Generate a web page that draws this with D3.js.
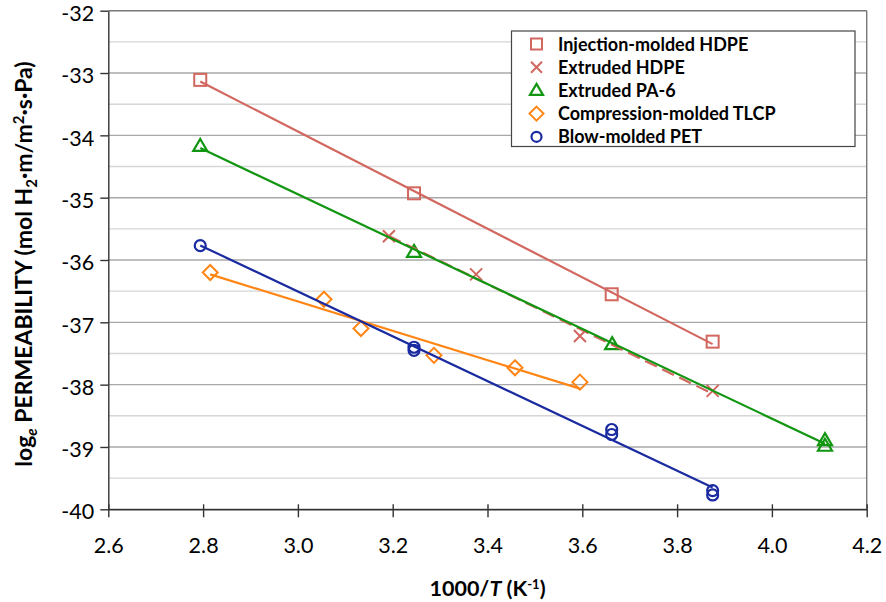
<!DOCTYPE html>
<html><head><meta charset="utf-8">
<script src="https://cdn.jsdelivr.net/npm/d3@7"></script>
<style>
html,body{margin:0;padding:0;background:#fff;}
text{font-family:Lato,"Open Sans",sans-serif;}
</style></head>
<body><svg id="chart" width="886" height="602"></svg>
<script>
// ---- data ----
const seriesNames = ["Injection-molded HDPE","Extruded HDPE","Extruded PA-6","Compression-molded TLCP","Blow-molded PET"];
const injHdpeX = [2.794, 3.245, 3.662, 3.875];
const injHdpeY = [-33.11, -34.93, -36.55, -37.31];
const extHdpeX = [3.192, 3.376, 3.595, 3.875];
const extHdpeY = [-35.62, -36.23, -37.22, -38.10];
const pa6X = [2.794, 3.245, 3.663, 4.112, 4.112];
const pa6Y = [-34.17, -35.87, -37.35, -38.89, -38.98];
const tlcpX = [2.815, 3.055, 3.133, 3.287, 3.458, 3.595];
const tlcpY = [-36.20, -36.63, -37.10, -37.53, -37.73, -37.96];
const petX = [2.794, 3.245, 3.245, 3.662, 3.662, 3.875, 3.875];
const petY = [-35.77, -37.40, -37.45, -38.72, -38.80, -39.70, -39.77];
const xTicks = [2.6, 2.8, 3.0, 3.2, 3.4, 3.6, 3.8, 4.0, 4.2];
const yTicks = [-40, -39, -38, -37, -36, -35, -34, -33, -32];

// ---- styling ----
const colors = ["#d2675f", "#d2675f", "#119611", "#ff8514", "#1a2aa0"];
const symbols = ["square", "cross", "triangle", "diamond", "circle"];
const dashes = [null, "13,6", null, null, null];

const svg = d3.select("#chart");
const m = {left:108.3, right:866.7, top:10.7, bottom:509.3};
const x = d3.scaleLinear().domain([2.6, 4.2]).range([m.left, m.right]);
const y = d3.scaleLinear().domain([-40, -32]).range([m.bottom, m.top]);

// gridlines
const halfs = d3.range(-40, -32.01, 0.5);
svg.append("g").selectAll("line").data(halfs).join("line")
  .attr("x1", m.left).attr("x2", m.right)
  .attr("y1", d => y(d)).attr("y2", d => y(d))
  .attr("stroke", d => Number.isInteger(d) ? "#a8a8a8" : "#d6d6d6")
  .attr("stroke-width", 1.4);

// frame (top/right border)
svg.append("line").attr("x1", m.left).attr("x2", m.right).attr("y1", m.top).attr("y2", m.top).attr("stroke", "#777").attr("stroke-width", 1.4);
svg.append("line").attr("x1", m.right).attr("x2", m.right).attr("y1", m.top).attr("y2", m.bottom).attr("stroke", "#777").attr("stroke-width", 1.4);

// axes
const xAxis = d3.axisBottom(x).tickValues(xTicks).tickFormat(d3.format(".1f")).tickSizeInner(8).tickSizeOuter(0).tickPadding(20);
const gx = svg.append("g").attr("transform", `translate(0,${m.bottom})`).call(xAxis);
gx.select(".domain").attr("stroke", "#333").attr("stroke-width", 1.4);
gx.selectAll(".tick line").attr("stroke", "#333").attr("stroke-width", 1.4).attr("y1", -5);
gx.selectAll(".tick text").attr("font-size", 21.5).attr("fill", "#000").attr("font-family", "Lato, sans-serif")
  .text(d => d3.format(".1f")(d));

const yAxis = d3.axisLeft(y).tickValues(yTicks).tickFormat(d3.format("d")).tickSizeInner(8).tickSizeOuter(0).tickPadding(6);
const gy = svg.append("g").attr("transform", `translate(${m.left},0)`).call(yAxis);
gy.select(".domain").attr("stroke", "#333").attr("stroke-width", 1.4);
gy.selectAll(".tick line").attr("stroke", "#333").attr("stroke-width", 1.4);
gy.selectAll(".tick text").attr("font-size", 21.5).attr("fill", "#000").attr("font-family", "Lato, sans-serif")
  .attr("dy", "0.45em")
  .text(d => d3.format("d")(d).replace("−", "-"));

// axis titles
const xt = svg.append("text").attr("x", (m.left + m.right) / 2).attr("y", 596)
  .attr("text-anchor", "middle").attr("font-size", 21.5).attr("font-weight", "bold");
xt.append("tspan").text("1000/");
xt.append("tspan").attr("font-style", "italic").text("T");
xt.append("tspan").text(" (K");
xt.append("tspan").attr("font-size", 13).attr("baseline-shift", "55%").text("-1");
xt.append("tspan").text(")");

const yt = svg.append("text").attr("transform", `translate(32,${(m.top + m.bottom) / 2 + 4}) rotate(-90)`)
  .attr("text-anchor", "middle").attr("font-size", 23).attr("font-weight", "bold");
yt.append("tspan").text("log");
yt.append("tspan").attr("font-size", 15).attr("font-style", "italic").attr("baseline-shift", "-30%").text("e");
yt.append("tspan").text(" PERMEABILITY (mol H");
yt.append("tspan").attr("font-size", 15).attr("baseline-shift", "-30%").text("2");
yt.append("tspan").text("·m/m");
yt.append("tspan").attr("font-size", 15).attr("baseline-shift", "55%").text("2");
yt.append("tspan").text("·s·Pa)");

// series
const series = [
  {xs: injHdpeX, ys: injHdpeY},
  {xs: extHdpeX, ys: extHdpeY},
  {xs: pa6X, ys: pa6Y},
  {xs: tlcpX, ys: tlcpY},
  {xs: petX, ys: petY}
];

function marker(g, type, cx, cy, color, s) {
  const h = s / 2;
  if (type === "square") {
    g.append("rect").attr("x", cx - h).attr("y", cy - h).attr("width", s).attr("height", s)
      .attr("fill", "none").attr("stroke", color).attr("stroke-width", 2);
  } else if (type === "cross") {
    g.append("path").attr("d", `M${cx-h},${cy-h}L${cx+h},${cy+h}M${cx-h},${cy+h}L${cx+h},${cy-h}`)
      .attr("fill", "none").attr("stroke", color).attr("stroke-width", 2);
  } else if (type === "triangle") {
    g.append("path").attr("d", `M${cx},${cy-h-1}L${cx+h+1},${cy+h-1}L${cx-h-1},${cy+h-1}Z`)
      .attr("fill", "none").attr("stroke", color).attr("stroke-width", 2.2);
  } else if (type === "diamond") {
    const d = h + 1.5;
    g.append("path").attr("d", `M${cx},${cy-d}L${cx+d},${cy}L${cx},${cy+d}L${cx-d},${cy}Z`)
      .attr("fill", "none").attr("stroke", color).attr("stroke-width", 2);
  } else if (type === "circle") {
    g.append("circle").attr("cx", cx).attr("cy", cy).attr("r", h - 0.5)
      .attr("fill", "none").attr("stroke", color).attr("stroke-width", 2.2);
  }
}

function fit(xs, ys) {
  const mx = d3.mean(xs), my = d3.mean(ys);
  let sxy = 0, sxx = 0;
  xs.forEach((v, i) => { sxy += (v - mx) * (ys[i] - my); sxx += (v - mx) * (v - mx); });
  const b = sxy / sxx;
  return v => my + b * (v - mx);
}

const plot = svg.append("g");
series.forEach((s, i) => {
  const g = plot.append("g");
  s.xs.forEach((v, j) => marker(g, symbols[i], x(v), y(s.ys[j]), colors[i], 12));
});
series.forEach((s, i) => {
  const f = fit(s.xs, s.ys);
  const x0 = d3.min(s.xs), x1 = d3.max(s.xs);
  plot.append("line").attr("x1", x(x0)).attr("y1", y(f(x0))).attr("x2", x(x1)).attr("y2", y(f(x1)))
    .attr("stroke", colors[i]).attr("stroke-width", 2.2)
    .attr("stroke-dasharray", dashes[i]);
});

// legend
const lg = svg.append("g");
lg.append("rect").attr("x", 511.5).attr("y", 31).attr("width", 343.5).attr("height", 115.5)
  .attr("fill", "#fff").attr("stroke", "#444").attr("stroke-width", 1.2);
seriesNames.forEach((n, i) => {
  const cy = 44 + i * 23.2;
  marker(lg, symbols[i], 536.5, cy, colors[i], 11);
  lg.append("text").attr("x", 558).attr("y", cy + 6.5).attr("font-size", 18).attr("font-weight", "bold").text(n);
});
</script>
</body></html>
